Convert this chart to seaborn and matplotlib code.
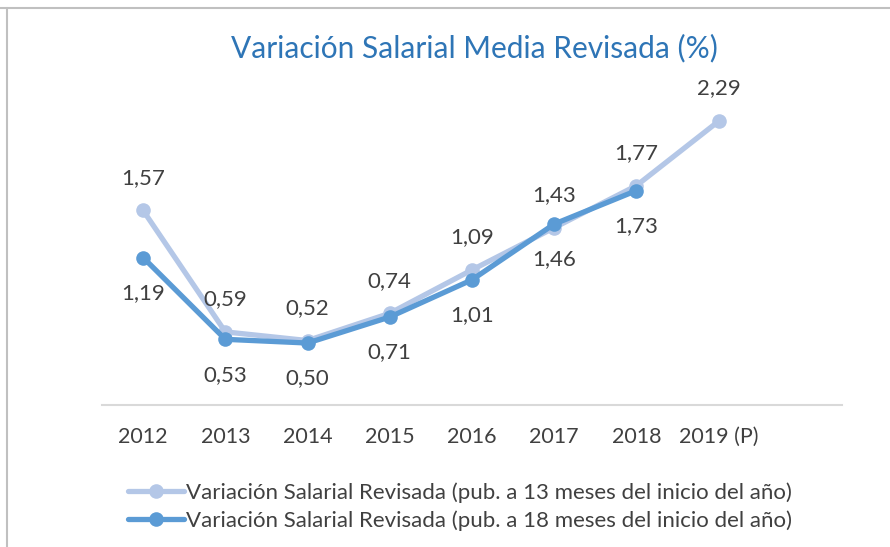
import matplotlib
matplotlib.use("Agg")
import matplotlib.pyplot as plt
import seaborn as sns
import pandas as pd
import numpy as np

years = ["2012", "2013", "2014", "2015", "2016", "2017", "2018", "2019 (P)"]
serie_13 = [1.57, 0.59, 0.52, 0.74, 1.09, 1.43, 1.77, 2.29]
serie_18 = [1.19, 0.53, 0.50, 0.71, 1.01, 1.46, 1.73, np.nan]
name_13 = "Variación Salarial Revisada (pub. a 13 meses del inicio del año)"
name_18 = "Variación Salarial Revisada (pub. a 18 meses del inicio del año)"

sns.set_theme(style="white")
plt.rcParams['font.family'] = ['Lato', 'DejaVu Sans']

c_light = "#b4c7e7"
c_dark = "#5b9bd5"
txt = "#404040"

fig = plt.figure(figsize=(8.9, 5.47), dpi=100)
ax = fig.add_axes([0.1146, 0.2596, 0.8314, 0.5664])

df = pd.DataFrame({"x": np.arange(len(years)), "v13": serie_13, "v18": serie_18})

sns.lineplot(data=df, x="x", y="v13", ax=ax, color=c_light, lw=3.8, marker="o",
             markersize=10.5, markeredgewidth=0, label=name_13)
sns.lineplot(data=df.dropna(), x="x", y="v18", ax=ax, color=c_dark, lw=3.8, marker="o",
             markersize=10.5, markeredgewidth=0, label=name_18)

def fmt(v):
    return f"{v:.2f}".replace(".", ",")

for i, v in enumerate(serie_13):
    ax.annotate(fmt(v), (i, v), xytext=(0, 23.5), textcoords="offset points",
                ha="center", va="center", fontsize=16, color=txt)
for i, v in enumerate(serie_18):
    if np.isnan(v):
        continue
    ax.annotate(fmt(v), (i, v), xytext=(0, -25.5), textcoords="offset points",
                ha="center", va="center", fontsize=16, color=txt)

ax.set_xlim(-0.5, 8.5)
ax.set_ylim(0, 2.5)
ax.set_xticks(range(len(years)))
ax.set_xticklabels(years, fontsize=15.5, color=txt)
ax.set_yticks([])
ax.tick_params(axis="x", length=0, pad=16)
ax.set_xlabel("")
ax.set_ylabel("")
for s in ["top", "right", "left"]:
    ax.spines[s].set_visible(False)
ax.spines["bottom"].set_color("#d9d9d9")
ax.spines["bottom"].set_linewidth(1.5)

ax.get_legend().remove()
h, l = ax.get_legend_handles_labels()
fig.legend(h, l, loc="center left", bbox_to_anchor=(0.1438, 0.074), ncol=1,
           frameon=False, fontsize=16, labelcolor=txt, handlelength=2.5,
           handletextpad=0.1, labelspacing=0.35, borderaxespad=0, borderpad=0)

fig.text(0.533, 0.912, "Variación Salarial Media Revisada (%)", ha="center", va="center",
         fontsize=21.5, color="#2e75b6")

# outer frame lines
fig.add_artist(plt.Line2D([0, 1], [1 - 8 / 547, 1 - 8 / 547], color="#c0c0c0", lw=1.5))
fig.add_artist(plt.Line2D([7 / 890, 7 / 890], [0, 1 - 8 / 547], color="#c0c0c0", lw=1.5))

fig.savefig("out.png", dpi=100)
